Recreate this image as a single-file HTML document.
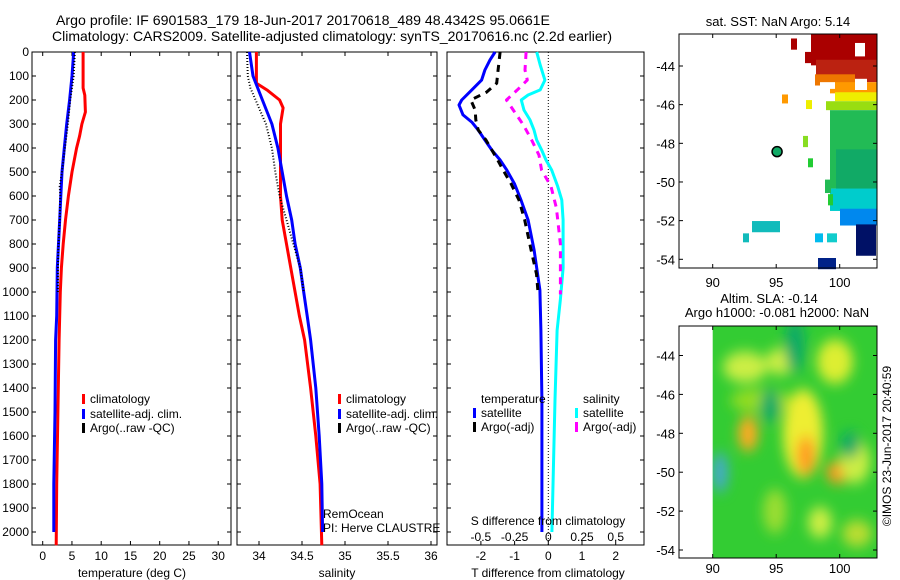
<!DOCTYPE html>
<html><head><meta charset="utf-8"><style>
body{margin:0;background:#fff}
svg{display:block;font-family:"Liberation Sans",sans-serif}
</style></head><body>
<svg id="fig" width="900" height="580" viewBox="0 0 900 580" xmlns="http://www.w3.org/2000/svg">
<rect width="900" height="580" fill="#fff"/>
<text x="56" y="25" font-size="14" textLength="494" lengthAdjust="spacingAndGlyphs">Argo profile: IF 6901583_179 18-Jun-2017 20170618_489 48.4342S 95.0661E</text>
<text x="52" y="41" font-size="14" textLength="560" lengthAdjust="spacingAndGlyphs">Climatology: CARS2009. Satellite-adjusted climatology: synTS_20170616.nc (2.2d earlier)</text>
<g id="g"></g>
</svg>
<script>
// ---- data ----
const depthTicks=[0,100,200,300,400,500,600,700,800,900,1000,1100,1200,1300,1400,1500,1600,1700,1800,1900,2000];
const tempTicks=[0,5,10,15,20,25,30];
const salTicks=[34,34.5,35,35.5,36];
const tDiffTicks=[-2,-1,0,1,2];
const sDiffTicks=[-0.5,-0.25,0,0.25,0.5];
const tempClimDepth=[0,150,180,250,300,350,400,450,500,600,700,800,900,1000,1200,1500,1800,2055];
const tempClimVal=[6.9,6.9,7.2,7.3,6.7,6.3,5.8,5.4,5.0,4.4,3.9,3.5,3.2,3.0,2.8,2.6,2.4,2.3];
const tempSatDepth=[0,100,200,300,400,500,600,700,800,900,1100,1200,1500,1800,2000];
const tempSatVal=[5.3,5.0,4.6,4.1,3.7,3.3,3.1,2.9,2.7,2.5,2.4,2.2,2.1,1.9,1.9];
const tempArgoDepth=[0,100,200,300,400,500,560,600,700,800,900,1000];
const tempArgoVal=[5.5,5.3,4.7,4.3,3.8,3.3,2.9,3.0,2.9,2.7,2.6,2.6];
const salClimDepth=[0,130,160,200,233,300,500,600,700,800,900,1000,1100,1200,1400,1600,1800,2055];
const salClimVal=[33.97,33.97,34.1,34.24,34.28,34.25,34.25,34.25,34.27,34.32,34.37,34.42,34.47,34.53,34.6,34.66,34.71,34.73];
const salSatDepth=[0,100,200,300,400,500,600,700,800,900,1000,1100,1200,1400,1600,1800,2000];
const salSatVal=[33.89,33.93,34.04,34.15,34.22,34.27,34.32,34.38,34.42,34.48,34.52,34.56,34.6,34.66,34.7,34.73,34.74];
const salArgoDepth=[0,100,150,200,300,400,500,600,700,800,900,1000];
const salArgoVal=[33.86,33.87,33.9,33.96,34.08,34.15,34.19,34.24,34.32,34.4,34.48,34.52];
const tDiffSatDepth=[0,33,75,117,158,200,221,262,292,325,367,408,450,492,550,617,700,825,992,1160,1450,2000];
const tDiffSatVal=[-1.58,-1.73,-1.88,-1.98,-2.27,-2.57,-2.65,-2.53,-2.27,-2.08,-1.88,-1.68,-1.43,-1.23,-1.0,-0.81,-0.6,-0.42,-0.25,-0.22,-0.19,-0.19];
const tDiffArgoDepth=[0,75,130,167,200,242,283,325,367,450,492,550,617,700,825,925,1010];
const tDiffArgoVal=[-1.43,-1.49,-1.53,-1.83,-2.3,-2.17,-2.15,-2.08,-1.85,-1.5,-1.34,-1.1,-0.87,-0.7,-0.51,-0.35,-0.3];
const sDiffSatDepth=[0,54,117,158,179,200,242,283,325,367,408,450,492,560,617,700,900,1030,1160,1450,2000];
const sDiffSatVal=[-0.086,-0.06,-0.025,-0.06,-0.15,-0.2,-0.18,-0.136,-0.106,-0.086,-0.05,-0.017,0.025,0.07,0.1,0.11,0.11,0.09,0.065,0.05,0.027];
const sDiffArgoDepth=[0,75,117,158,200,242,304,367,430,492,560,650,800,950,1010];
const sDiffArgoVal=[-0.165,-0.173,-0.156,-0.23,-0.31,-0.26,-0.185,-0.123,-0.069,-0.05,0.02,0.06,0.09,0.09,0.09];
const latTicks=[-44,-46,-48,-50,-52,-54];
const lonTicks=[90,95,100];
const argoLon=[95.07];
const argoLat=[-48.43];

// ---- helpers ----
const NS="http://www.w3.org/2000/svg";
const G=document.getElementById('g');
function mk(tag,attrs,parent){const e=document.createElementNS(NS,tag);for(const k in attrs)e.setAttribute(k,attrs[k]);(parent||G).appendChild(e);return e;}
function txt(x,y,s,size,anchor,parent){const t=mk('text',{x:x,y:y,'font-size':size||12,'text-anchor':anchor||'start'},parent);t.textContent=s;return t;}
const yD=d=>52+d*0.24;
const P1={l:32,r:231,x:v=>42.7+v*5.85};
const P2={l:237,r:437,x:v=>259+(v-34)*86};
const P3={l:447,r:644,x:v=>548.3+v*33.7,xs:v=>548.3+v*134.8};
const TOP=52,BOT=545;

function frame(P,name,labels){
  const f=mk('rect',{x:P.l,y:TOP,width:P.r-P.l,height:BOT-TOP,fill:'none',stroke:'#000','stroke-width':1});
  
  
  depthTicks.forEach(d=>{
    const y=yD(d);
    mk('line',{x1:P.l,x2:P.l+4,y1:y,y2:y,stroke:'#000'});
    mk('line',{x1:P.r,x2:P.r-4,y1:y,y2:y,stroke:'#000'});
    if(labels){const t=txt(29,y+4,String(d),12,'end');
      
      }
  });
}
function xticks(P,ticks,fx,name,ly,topTicks){
  ticks.forEach(v=>{
    const x=fx(v);
    mk('line',{x1:x,x2:x,y1:BOT,y2:BOT-4,stroke:'#000'});
    if(topTicks!==false) mk('line',{x1:x,x2:x,y1:TOP,y2:TOP+4,stroke:'#000'});
    const t=txt(x,ly,String(v),12,'middle');
    
    
  });
}
function line(depths,vals,fx,color,w,dash,name){
  const pts=depths.map((d,i)=>fx(vals[i]).toFixed(1)+','+yD(d).toFixed(1)).join(' ');
  const a={points:pts,fill:'none',stroke:color,'stroke-width':w,'stroke-linejoin':'round'};
  if(dash)a['stroke-dasharray']=dash;
  const p=mk('polyline',a);
  
  
}
function legendEntry(x,y,color,label,name){
  const g=mk('g',{});
  
  
  mk('rect',{x:x,y:y-9,width:3,height:10,fill:color},g);
  txt(x+8,y,label,12,'start',g);
}

// ---- panel 1: temperature ----
frame(P1,'temperature-panel',true);
xticks(P1,tempTicks,P1.x,'temperature-tick-label',560);
line(tempClimDepth,tempClimVal,P1.x,'#f00',3,null,'temp-climatology-line');
line(tempSatDepth,tempSatVal,P1.x,'#00f',3,null,'temp-satellite-line');
line(tempArgoDepth,tempArgoVal,P1.x,'#000',2,'1 2','temp-argo-line');
let t=txt(132,577,'temperature (deg C)',12,'middle');


legendEntry(82,403,'#f00','climatology','legend-climatology');
legendEntry(82,418,'#00f','satellite-adj. clim.','legend-satellite-adj');
legendEntry(82,432,'#000','Argo(..raw -QC)','legend-argo');

// ---- panel 2: salinity ----
frame(P2,'salinity-panel',false);
xticks(P2,salTicks,P2.x,'salinity-tick-label',560);
line(salClimDepth,salClimVal,P2.x,'#f00',3,null,'sal-climatology-line');
line(salSatDepth,salSatVal,P2.x,'#00f',3,null,'sal-satellite-line');
line(salArgoDepth,salArgoVal,P2.x,'#000',2,'1 2','sal-argo-line');
t=txt(337,577,'salinity',12,'middle');


legendEntry(338,403,'#f00','climatology','legend-sal-climatology');
legendEntry(338,418,'#00f','satellite-adj. clim.','legend-sal-satellite-adj');
legendEntry(338,432,'#000','Argo(..raw -QC)','legend-sal-argo');
t=txt(323,518,'RemOcean',12,'start');


t=txt(323,532,'PI: Herve CLAUSTRE',12,'start');



// ---- panel 3: differences ----
frame(P3,'difference-panel',false);
xticks(P3,tDiffTicks,P3.x,'t-diff-tick-label',560,false);
sDiffTicks.forEach(v=>{const tt=txt(P3.xs(v),541,String(v),12,'middle');
  
  });
mk('line',{x1:P3.x(0),x2:P3.x(0),y1:TOP,y2:BOT,stroke:'#000','stroke-dasharray':'1 2'});
line(tDiffSatDepth,tDiffSatVal,P3.x,'#00f',3,null,'t-diff-satellite-line');
line(tDiffArgoDepth,tDiffArgoVal,P3.x,'#000',3,'7 6','t-diff-argo-line');
line(sDiffSatDepth,sDiffSatVal,P3.xs,'#0ff',3,null,'s-diff-satellite-line');
line(sDiffArgoDepth,sDiffArgoVal,P3.xs,'#f0f',3,'7 6','s-diff-argo-line');
t=txt(548,525,'S difference from climatology',12,'middle');


t=txt(548,577,'T difference from climatology',12,'middle');


t=txt(481,403,'temperature',12,'start');


t=txt(583,403,'salinity',12,'start');


legendEntry(473,417,'#00f','satellite','legend-t-satellite');
legendEntry(473,431,'#000','Argo(-adj)','legend-t-argo');
legendEntry(575,417,'#0ff','satellite','legend-s-satellite');
legendEntry(575,431,'#f0f','Argo(-adj)','legend-s-argo');

// ---- maps ----
const M1={l:679,r:877,t:34,b:268,lat:v=>66+(-44-v)*19.33,lon:v=>712.7+(v-90)*12.7};
const M2={l:679,r:877,t:326,b:558,lat:v=>355.5+(-44-v)*19.45,lon:v=>712.7+(v-90)*12.7};
function mapAxes(M,name,lonY){
  latTicks.forEach(v=>{const y=M.lat(v);
    mk('line',{x1:M.l,x2:M.l+4,y1:y,y2:y,stroke:'#000'});
    mk('line',{x1:M.r,x2:M.r-4,y1:y,y2:y,stroke:'#000'});
    const tt=txt(675,y+5,String(v),13,'end');
    
    });
  lonTicks.forEach(v=>{const x=M.lon(v);
    mk('line',{x1:x,x2:x,y1:M.b,y2:M.b-4,stroke:'#000'});
    mk('line',{x1:x,x2:x,y1:M.t,y2:M.t+4,stroke:'#000'});
    const tt=txt(x,lonY,String(v),13,'middle');
    
    });
  const f=mk('rect',{x:M.l,y:M.t,width:M.r-M.l,height:M.b-M.t,fill:'none',stroke:'#000'});
  
  
}
// SST map
const sst=mk('g',{transform:'translate(0,34) scale(1,1.12) translate(0,-32)'});


[[811,32,66,28,'#a00'],[816,55,61,20,'#b21'],[815,68,40,10,'#e70'],[830,75,47,10,'#f90'],[835,84,42,8,'#ee0'],[826,92,51,8,'#9d1'],[830,100,47,70,'#2b5'],[836,135,41,40,'#1a6'],[830,170,47,20,'#0cc'],[840,188,37,15,'#08e'],[856,202,20,28,'#016'],[818,232,18,10,'#028'],
 [791,36,6,10,'#a00'],[805,48,10,10,'#a00'],[782,86,6,8,'#f90'],[806,91,6,8,'#ee0'],[803,123,5,10,'#8d2'],[808,143,5,8,'#2c3'],[825,162,6,12,'#2b5'],[828,175,5,10,'#2c3'],[752,199,28,10,'#1bb'],[743,210,6,8,'#1bb'],[815,210,8,8,'#0be'],[827,210,10,8,'#1cc']
].forEach(r=>mk('rect',{x:r[0],y:r[1],width:r[2],height:r[3],fill:r[4]},sst));
[[855,40,10,12],[820,75,15,6],[855,72,12,10],[840,205,12,10]].forEach(r=>mk('rect',{x:r[0],y:r[1],width:r[2],height:r[3],fill:'#fff'},sst));
const dot=mk('circle',{cx:M1.lon(argoLon[0]),cy:M1.lat(argoLat[0]),r:5,fill:'#1a6',stroke:'#000','stroke-width':1.5});


mapAxes(M1,'sst-map-frame',287);
t=txt(778,26,'sat. SST: NaN Argo: 5.14',13,'middle');



// SLA map
const defs=mk('defs',{});
const flt=mk('filter',{id:'bl',x:'-20%',y:'-20%',width:'140%',height:'140%'},defs);
mk('feGaussianBlur',{stdDeviation:6},flt);
const cp=mk('clipPath',{id:'cp2'},defs);
mk('rect',{x:712.7,y:326,width:164.3,height:232},cp);
const sla=mk('g',{'clip-path':'url(#cp2)'});


mk('rect',{x:712,y:326,width:166,height:232,fill:'#3c3'},sla);
const bl=mk('g',{filter:'url(#bl)',transform:'translate(0,326) scale(1,1.11) translate(0,-293)'},sla);
[[745,330,22,14,'#ce4'],[780,325,14,12,'#ce4'],[835,325,18,20,'#de3'],[760,360,30,10,'#9d2'],[748,390,10,16,'#fa2'],[803,390,20,40,'#ee3'],[806,410,9,18,'#f92'],[838,425,12,10,'#f92'],[855,415,15,20,'#ce4'],[720,425,8,18,'#4ac'],[775,460,12,20,'#9d3'],[820,470,12,14,'#ce4'],[857,480,15,12,'#bd3'],[770,365,10,15,'#1a6'],[850,400,10,12,'#1a6'],[795,310,10,25,'#1a6']
].forEach(e=>mk('ellipse',{cx:e[0],cy:e[1],rx:e[2],ry:e[3],fill:e[4]},bl));
mapAxes(M2,'sla-map-frame',573);
t=txt(769,303,'Altim. SLA: -0.14',13,'middle');


t=txt(777,317,'Argo h1000: -0.081 h2000: NaN',13,'middle');


t=txt(0,0,'©IMOS 23-Jun-2017 20:40:59',12,'middle');
t.setAttribute('transform','translate(891,446) rotate(-90)');


</script>
</body></html>
